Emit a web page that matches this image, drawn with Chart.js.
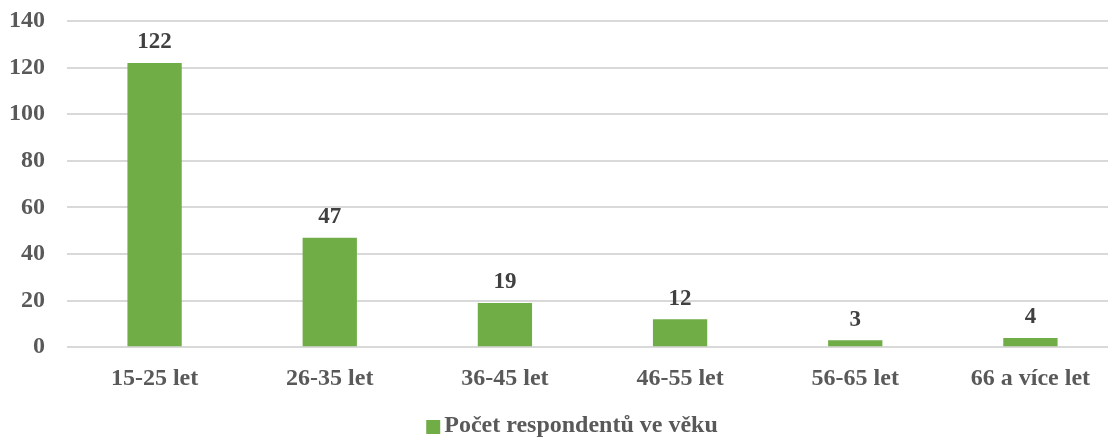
<!DOCTYPE html>
<html>
<head>
<meta charset="utf-8">
<script src="https://cdn.jsdelivr.net/npm/chart.js@4"></script>
<style>
    html, body { margin: 0; padding: 0; background: #fff; overflow: hidden; }
    #wrap { width: 1148px; height: 448px; }
</style>
</head>
<body>
<div id="wrap"><canvas id="ageChart"></canvas></div>
<script>
// Chart data
const categories = ['15-25 let', '26-35 let', '36-45 let', '46-55 let', '56-65 let', '66 a více let'];
const respondents = [122, 47, 19, 12, 3, 4];
const yTicks = [0, 20, 40, 60, 80, 100, 120, 140];
const seriesName = 'Počet respondentů ve věku';

const FONT = '"Liberation Serif", "Times New Roman", serif';
const BAR_COLOR = '#70AD47';

// Simple value labels above bars (no datalabels plugin available)
const valueLabels = {
    id: 'valueLabels',
    afterDatasetsDraw(chart) {
        const ctx = chart.ctx;
        const meta = chart.getDatasetMeta(0);
        ctx.save();
        ctx.font = 'bold 23px ' + FONT;
        ctx.fillStyle = '#404040';
        ctx.textAlign = 'center';
        ctx.textBaseline = 'bottom';
        meta.data.forEach(function(bar, i) {
            ctx.fillText(String(respondents[i]), bar.x, bar.y - 9);
        });
        ctx.restore();
    }
};

// Legend marker drawn by hand so it can sit close to the text
const legendMarker = {
    id: 'legendMarker',
    afterDraw(chart) {
        const boxes = chart.legend && chart.legend.legendHitBoxes;
        if (!boxes || !boxes.length) return;
        const hb = boxes[0];
        const size = 14;
        const cy = hb.top + hb.height / 2 + 1;
        const ctx = chart.ctx;
        ctx.save();
        ctx.fillStyle = BAR_COLOR;
        ctx.fillRect(hb.left - 4, cy - size / 2, size, size);
        ctx.restore();
    }
};

new Chart(document.getElementById('ageChart').getContext('2d'), {
    type: 'bar',
    data: {
        labels: categories,
        datasets: [{
            label: seriesName,
            data: respondents,
            backgroundColor: BAR_COLOR,
            borderWidth: 0,
            categoryPercentage: 1,
            barPercentage: 0.31
        }]
    },
    options: {
        responsive: true,
        maintainAspectRatio: false,
        animation: false,
        layout: {
            padding: { top: 21, left: 0, right: 0, bottom: 0 }
        },
        scales: {
            y: {
                min: 0,
                max: 140,
                afterBuildTicks: function(axis) {
                    axis.ticks = yTicks.map(v => ({ value: v }));
                },
                afterFit: function(axis) {
                    axis.width = 67;
                    axis.paddingTop = 0;
                    axis.paddingBottom = 0;
                },
                border: { display: false },
                grid: { color: '#D9D9D9', lineWidth: 2, drawTicks: false },
                ticks: {
                    padding: 22,
                    color: '#595959',
                    font: { family: FONT, size: 24, weight: 'bold' }
                }
            },
            x: {
                afterFit: function(axis) {
                    axis.paddingRight = 30;
                },
                border: { display: false },
                grid: { display: false, drawTicks: false },
                ticks: {
                    padding: 17,
                    color: '#595959',
                    maxRotation: 0,
                    font: { family: FONT, size: 24, weight: 'bold' }
                }
            }
        },
        plugins: {
            legend: {
                position: 'bottom',
                labels: {
                    boxWidth: 2,
                    boxHeight: 14,
                    padding: 4,
                    color: '#595959',
                    font: { family: FONT, size: 24, weight: 'bold' },
                    generateLabels: function(chart) {
                        const items = Chart.defaults.plugins.legend.labels.generateLabels(chart);
                        items.forEach(function(item) {
                            item.fillStyle = 'rgba(0,0,0,0)';
                            item.strokeStyle = 'rgba(0,0,0,0)';
                            item.lineWidth = 0;
                        });
                        return items;
                    }
                }
            },
            tooltip: { enabled: false }
        }
    },
    plugins: [valueLabels, legendMarker]
});
</script>
</body>
</html>
